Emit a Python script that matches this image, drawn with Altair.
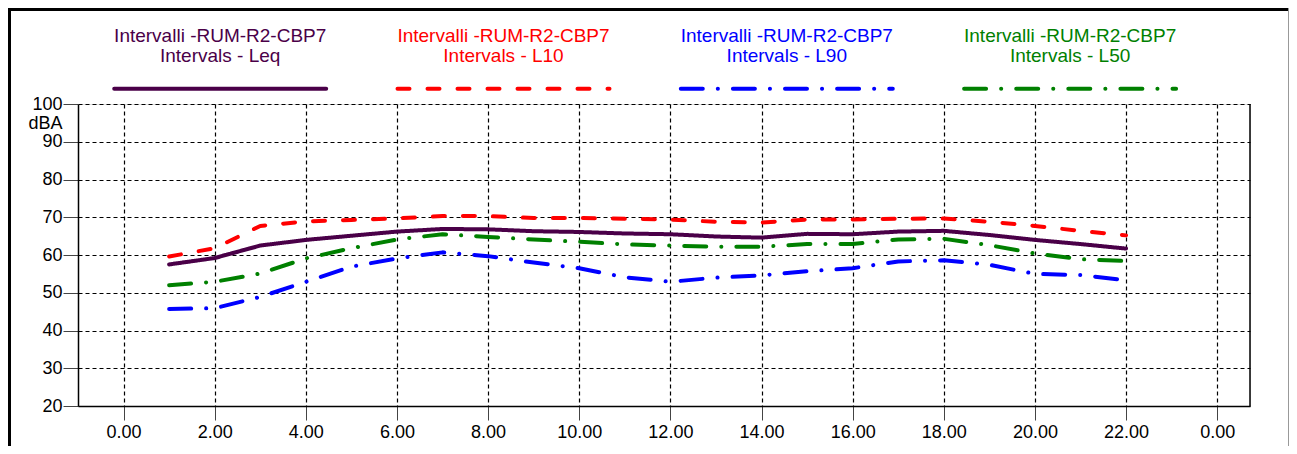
import altair as alt
import pandas as pd

hours = list(range(1, 23))
leq = [57.5, 59.2, 62.5, 64.0, 65.1, 66.2, 66.9, 66.8, 66.3, 66.1, 65.7, 65.5, 64.9, 64.6,
       65.6, 65.5, 66.2, 66.4, 65.3, 64.0, 62.9, 61.7]
l10 = [59.6, 61.8, 67.7, 68.9, 69.3, 69.7, 70.3, 70.3, 69.8, 69.8, 69.6, 69.4, 68.8, 68.6,
       69.4, 69.4, 69.6, 69.7, 68.8, 67.7, 66.4, 65.2]
l90 = [45.7, 45.9, 48.9, 52.9, 56.9, 59.1, 60.7, 59.7, 58.0, 56.5, 54.1, 52.9, 54.0, 54.6,
       55.7, 56.5, 58.3, 58.6, 57.4, 55.0, 54.7, 53.3]
l50 = [52.0, 52.9, 55.1, 59.1, 61.8, 64.1, 65.5, 64.8, 64.1, 63.5, 62.8, 62.5, 62.2, 62.2,
       62.9, 62.9, 64.1, 64.3, 62.6, 60.4, 58.9, 58.4]

series = ["Leq", "L10", "L90", "L50"]
values = [leq, l10, l90, l50]
legend_top = "Intervalli -RUM-R2-CBP7"
legend_bottom = ["Intervals - Leq", "Intervals - L10", "Intervals - L90", "Intervals - L50"]
colors = ["#4a0048", "#ff0000", "#0000ff", "#008000"]
dashes = [[1, 0], [12, 18], [22, 15, 0.1, 15], [22, 15, 0.1, 15]]
x_ticks = list(range(0, 25, 2))
y_ticks = list(range(20, 101, 10))

rows = []
for s, vals in zip(series, values):
    for h, v in zip(hours, vals):
        rows.append({"hour": h, "value": v, "series": s})
df = pd.DataFrame(rows)

W, H = 1172, 302
FONT = "Liberation Sans"

x_scale = alt.Scale(domain=[-1, 24.72], nice=False, zero=False)
y_scale = alt.Scale(domain=[20, 100], nice=False, zero=False)

lines = alt.Chart(df).mark_line(strokeWidth=4, strokeCap="round", strokeJoin="round").encode(
    x=alt.X("hour:Q", scale=x_scale,
            axis=alt.Axis(values=x_ticks, labelExpr="format(datum.value % 24, '.2f')",
                          grid=True, gridDash=[4, 3], gridColor="black", gridOpacity=1,
                          gridWidth=1.2,
                          domainColor="black", domainWidth=1.5, tickColor="#444", tickSize=14,
                          labelFontSize=18, labelFont=FONT, labelColor="black", labelPadding=3,
                          title=None)),
    y=alt.Y("value:Q", scale=y_scale,
            axis=alt.Axis(values=y_ticks, grid=True, gridDash=[4, 3], gridColor="black",
                          gridOpacity=1, gridWidth=1.2,
                          domainColor="black", domainWidth=1.5, tickColor="#444",
                          tickSize=15, labelFontSize=18, labelFont=FONT, labelColor="black",
                          labelPadding=1, title="dBA", titleAngle=0, titleAlign="right",
                          titleBaseline="middle", titleX=-16, titleY=19, titleFontSize=18,
                          titleFont=FONT, titleFontWeight="normal", titleColor="black")),
    color=alt.Color("series:N", scale=alt.Scale(domain=series, range=colors), legend=None),
    strokeDash=alt.StrokeDash("series:N", scale=alt.Scale(domain=series, range=dashes), legend=None),
    order=alt.Order("hour:Q"),
)

layers = [lines]

# right border of plot area
layers.append(alt.Chart(pd.DataFrame({"a": [0]})).mark_rule(color="black", strokeWidth=1.5).encode(
    x=alt.value(W), y=alt.value(0), y2=alt.value(H)))

# legend (custom, above plot)
first_center = 142.2
step = 283.3
half = 106
for i, s in enumerate(series):
    cx = first_center + i * step
    ldf = pd.DataFrame({"series": [s], "top": [legend_top], "bottom": [legend_bottom[i]]})
    base = alt.Chart(ldf)
    layers.append(base.mark_text(fontSize=19, font=FONT, color=colors[i], align="center",
                                 baseline="middle").encode(
        text="top:N", x=alt.value(cx), y=alt.value(-68.5)))
    layers.append(base.mark_text(fontSize=19, font=FONT, color=colors[i], align="center",
                                 baseline="middle").encode(
        text="bottom:N", x=alt.value(cx), y=alt.value(-48)))
    layers.append(base.mark_rule(color=colors[i], strokeWidth=4, strokeCap="round",
                                 strokeDash=dashes[i]).encode(
        x=alt.value(cx - half), x2=alt.value(cx + half), y=alt.value(-15.3)))

# outer frame
frame = alt.Chart(pd.DataFrame({"a": [0]}))
layers.append(frame.mark_rule(color="black", strokeWidth=3).encode(
    x=alt.value(-70), x2=alt.value(W + 39), y=alt.value(-94.5)))
layers.append(frame.mark_rule(color="black", strokeWidth=3).encode(
    x=alt.value(-68.5), y=alt.value(-96), y2=alt.value(H + 40)))
layers.append(frame.mark_rule(color="#999999", strokeWidth=1).encode(
    x=alt.value(W + 38.5), y=alt.value(-96), y2=alt.value(H + 40)))

chart = alt.layer(*layers).properties(
    width=W, height=H,
    autosize=alt.AutoSizeParams(type="none"),
    padding={"left": 70, "top": 96, "right": 39, "bottom": 40},
).configure_view(stroke=None).configure(background="white")

chart.save("out.html", embed_options={"renderer": "svg", "actions": False})
